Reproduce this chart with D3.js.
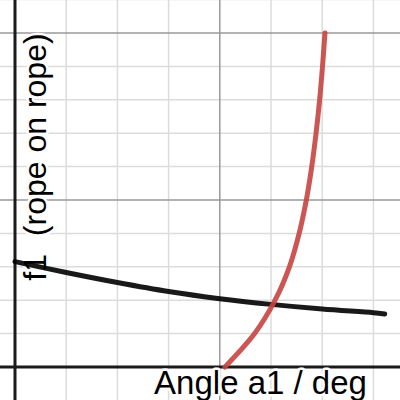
<!DOCTYPE html>
<html>
<head>
<meta charset="utf-8">
<script src="https://cdn.jsdelivr.net/npm/d3@7"></script>
<style>
  html, body { margin: 0; padding: 0; background: #fff; }
  svg { display: block; }
  text { white-space: pre; }
</style>
</head>
<body>
<div id="container"></div>
<script>
// grid lines (data units)
const xMinor = [5, 10, 15, 25, 30, 35];
const xMajor = [20];
const yMinor = [0.2, 0.4, 0.6, 0.8, 1.2, 1.4, 1.6, 1.8, 2.2];
const yMajor = [1, 2];

// black curve: f1 (rope on rope) vs angle
const ropeAngle = [0, 5, 10, 15, 20, 25, 30, 35, 36.1];
const ropeF1 = [0.631, 0.566, 0.506, 0.452, 0.409, 0.375, 0.347, 0.325, 0.318];

// red curve
const redAngle = [20.5, 23.4, 25.4, 26.8, 27.75, 28.45, 28.98, 29.4, 29.75, 30.03, 30.27];
const redF1 = [0, 0.2, 0.4, 0.6, 0.8, 1.0, 1.2, 1.4, 1.6, 1.8, 2.0];

const xLabel = "Angle a1 / deg";
const yLabel = "f1  (rope on rope)";

const width = 400;
const height = 400;

const x = d3.scaleLinear().domain([0, 20]).range([15, 219.8]);
const y = d3.scaleLinear().domain([0, 2]).range([367, 33]);

const svg = d3.create("svg").attr("width", width).attr("height", height);

// minor grid
svg.append("g")
  .selectAll("line")
  .data(xMinor)
  .join("line")
  .attr("x1", (d) => x(d)).attr("x2", (d) => x(d))
  .attr("y1", 0).attr("y2", height)
  .attr("stroke", "#dcdcdc")
  .attr("stroke-width", 1.5);

svg.append("g")
  .selectAll("line")
  .data(yMinor)
  .join("line")
  .attr("y1", (d) => y(d)).attr("y2", (d) => y(d))
  .attr("x1", 0).attr("x2", width)
  .attr("stroke", "#dcdcdc")
  .attr("stroke-width", 1.5);

// major grid
svg.append("g")
  .selectAll("line")
  .data(xMajor)
  .join("line")
  .attr("x1", (d) => x(d)).attr("x2", (d) => x(d))
  .attr("y1", 0).attr("y2", height)
  .attr("stroke", "#999")
  .attr("stroke-width", 1.5);

svg.append("g")
  .selectAll("line")
  .data(yMajor)
  .join("line")
  .attr("y1", (d) => y(d)).attr("y2", (d) => y(d))
  .attr("x1", 0).attr("x2", width)
  .attr("stroke", "#999")
  .attr("stroke-width", 1.5);

// axes
svg.append("line")
  .attr("x1", x(0)).attr("x2", x(0))
  .attr("y1", 0).attr("y2", height)
  .attr("stroke", "#1a1a1a")
  .attr("stroke-width", 3);

svg.append("line")
  .attr("x1", 0).attr("x2", width)
  .attr("y1", y(0)).attr("y2", y(0))
  .attr("stroke", "#1a1a1a")
  .attr("stroke-width", 3);

// axis labels with white halo
const labelStyle = (sel) =>
  sel
    .attr("font-family", "'Liberation Sans', Arial, sans-serif")
    .attr("font-size", "33px")
    .attr("fill", "#000")
    .attr("stroke", "#fff")
    .attr("stroke-width", 5)
    .attr("stroke-linejoin", "round")
    .attr("paint-order", "stroke");

svg.append("text")
  .attr("x", 260.5)
  .attr("y", 394)
  .attr("text-anchor", "middle")
  .call(labelStyle)
  .text(xLabel);

svg.append("text")
  .attr("transform", "translate(46,157) rotate(-90)")
  .attr("text-anchor", "middle")
  .attr("xml:space", "preserve")
  .call(labelStyle)
  .attr("font-size", "32px")
  .text(yLabel);

// curves
const line = d3.line()
  .x((d) => x(d[0]))
  .y((d) => y(d[1]))
  .curve(d3.curveCatmullRom);

svg.append("path")
  .datum(d3.zip(ropeAngle, ropeF1))
  .attr("d", line)
  .attr("fill", "none")
  .attr("stroke", "#000")
  .attr("stroke-width", 5)
  .attr("stroke-linecap", "round")
  .attr("stroke-opacity", 0.9);

svg.append("path")
  .datum(d3.zip(redAngle, redF1))
  .attr("d", line)
  .attr("fill", "none")
  .attr("stroke", "#c74440")
  .attr("stroke-width", 5)
  .attr("stroke-linecap", "round")
  .attr("stroke-opacity", 0.9);

d3.select("#container").append(() => svg.node());
</script>
</body>
</html>
